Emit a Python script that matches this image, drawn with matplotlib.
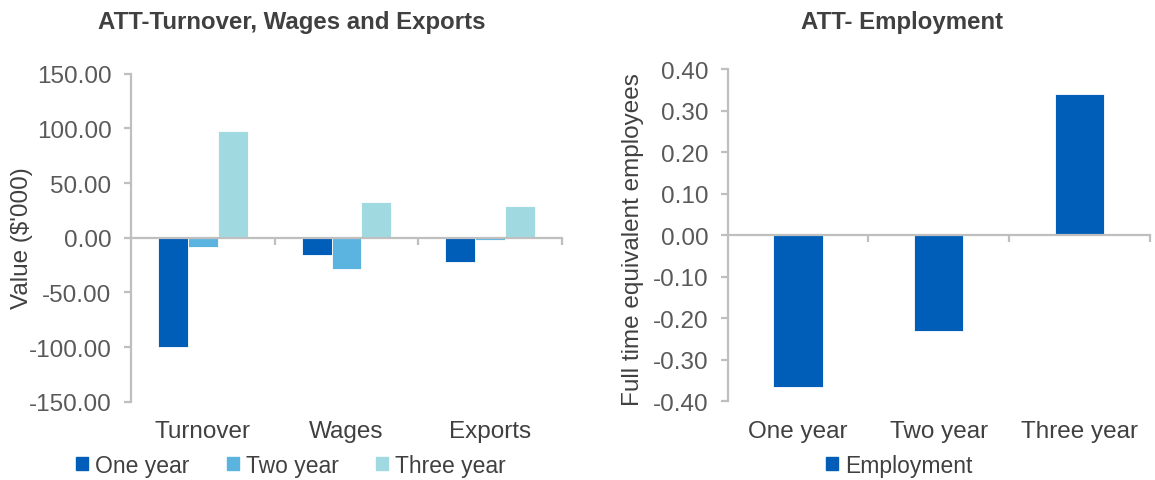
import matplotlib
matplotlib.use("Agg")
import matplotlib.pyplot as plt
from matplotlib.patches import Patch
import matplotlib.transforms as mtransforms

plt.rcParams['font.family'] = ['Liberation Sans', 'DejaVu Sans']

# Data
categories_left = ["Turnover", "Wages", "Exports"]
series_names = ["One year", "Two year", "Three year"]
one_year = [-100.3, -16.1, -22.2]
two_year = [-8.9, -28.3, -2.4]
three_year = [97.8, 32.9, 28.6]

categories_right = ["One year", "Two year", "Three year"]
employment = [-0.366, -0.23, 0.34]

left_ticks = [150, 100, 50, 0, -50, -100, -150]
right_ticks = [0.4, 0.3, 0.2, 0.1, 0.0, -0.1, -0.2, -0.3, -0.4]

colors = ["#005EB8", "#5BB4E0", "#A0DAE0"]
axis_color = "#BFBFBF"
text_color = "#404040"
tick_color = "#595959"
tick_fs = 17.5
leg_fs = 16.5
title_fs = 17.3

fig = plt.figure(figsize=(11.55, 4.81), dpi=100)

def style_axis(ax):
    for s in ["top", "right"]:
        ax.spines[s].set_visible(False)
    ax.spines["left"].set_color(axis_color)
    ax.spines["left"].set_linewidth(1.6)
    ax.spines["bottom"].set_color(axis_color)
    ax.spines["bottom"].set_linewidth(1.6)
    ax.spines["bottom"].set_position(("data", 0))
    ax.tick_params(axis="y", colors=axis_color, labelcolor=tick_color,
                   labelsize=tick_fs, length=5, width=1.6, direction="out", pad=9)
    ax.tick_params(axis="x", which="major", length=0, labelbottom=False)
    ax.tick_params(axis="x", which="minor", colors=axis_color, length=5,
                   width=1.6, direction="out")
    ax.set_xlim(-0.5, 2.5)
    ax.set_xticks([0, 1, 2])
    ax.set_xticks([0.5, 1.5, 2.5], minor=True)

def cat_labels(ax, cats):
    trans = mtransforms.blended_transform_factory(ax.transData, ax.transAxes)
    for i, c in enumerate(cats):
        ax.text(i, -0.088, c, transform=trans, ha="center", va="center",
                fontsize=tick_fs, color=text_color)

# Left chart
ax1 = fig.add_axes([131/1155, 1-402.7/481, 431/1155, (402.7-74.7)/481])
w = 0.208
xs = range(len(categories_left))
for k, (vals, col) in enumerate(zip([one_year, two_year, three_year], colors)):
    ax1.bar([x + (k-1)*w for x in xs], vals, width=w, color=col,
            edgecolor="white", linewidth=0.6, zorder=2)
ax1.set_ylim(-150, 150)
ax1.set_yticks(left_ticks)
ax1.set_yticklabels([f"{t:.2f}" for t in left_ticks])
style_axis(ax1)
cat_labels(ax1, categories_left)
fig.text(22/1155, 1-238/481, "Value ($'000)", rotation=90, ha="center",
         va="center", fontsize=tick_fs, color=text_color)
fig.text(292/1155, 1-22/481, "ATT-Turnover, Wages and Exports", ha="center",
         va="center", fontsize=title_fs, fontweight="bold", color=text_color)
handles = [Patch(color=c, label=n) for c, n in zip(colors, series_names)]
fig.legend(handles=handles, loc="center", bbox_to_anchor=(291/1155, 1-466/481),
           ncol=3, frameon=False, fontsize=leg_fs, handlelength=0.52,
           handleheight=0.52, handletextpad=0.3, columnspacing=1.65,
           labelcolor=text_color)

# Right chart
ax2 = fig.add_axes([727.7/1155, 1-402.3/481, 422/1155, (402.3-70)/481])
ax2.bar(range(len(categories_right)), employment, width=0.35, color=colors[0],
        edgecolor="white", linewidth=0.6, zorder=2)
ax2.set_ylim(-0.4, 0.4)
ax2.set_yticks(right_ticks)
ax2.set_yticklabels([f"{t:.2f}" for t in right_ticks])
style_axis(ax2)
cat_labels(ax2, categories_right)
fig.text(633/1155, 1-240/481, "Full time equivalent employees", rotation=90,
         ha="center", va="center", fontsize=tick_fs, color=text_color)
fig.text(902/1155, 1-22/481, "ATT- Employment", ha="center", va="center",
         fontsize=title_fs, fontweight="bold", color=text_color)
fig.legend(handles=[Patch(color=colors[0], label="Employment")], loc="center",
           bbox_to_anchor=(899/1155, 1-466/481), frameon=False, fontsize=leg_fs,
           handlelength=0.52, handleheight=0.52, handletextpad=0.3,
           labelcolor=text_color)

fig.savefig("out.png", dpi=100)
